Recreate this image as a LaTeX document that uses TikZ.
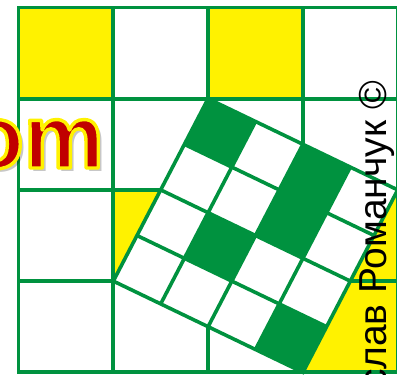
\documentclass[tikz,border=0pt]{standalone}
\usepackage{fontspec}
\setmainfont{Liberation Sans}
\definecolor{gr}{RGB}{0,146,63}
\definecolor{ye}{RGB}{255,242,0}
\definecolor{rd}{RGB}{192,0,0}
\newcommand{\outlinedom}[1]{\special{pdf:code 1 0.949 0 RG 3.4 w 1 j 2 Tr}#1\special{pdf:code 0 Tr}}
\begin{document}
\begin{tikzpicture}[x=1pt,y=-1pt,
  gline/.style={draw=gr,line width=3.8pt,line cap=rect},
  rline/.style={draw=gr,line width=3.6pt},
  omtext/.style={anchor=base east,inner sep=0pt,font=\fontsize{90}{100}\selectfont\bfseries},
  authtext/.style={rotate=90,anchor=base east,inner sep=0pt,font=\fontsize{39}{46}\selectfont}]
\useasboundingbox (0,0) rectangle (397,375);
\clip (0,0) rectangle (397,375);
\fill[white] (0,0) rectangle (397,375);
% yellow cells and triangles
\fill[ye] (18.5,7.5) rectangle (113.3,98.7);
\fill[ye] (208.1,7.5) rectangle (302.9,98.7);
\fill[ye] (113.3,189.9) -- (160.7,189.9) -- (113.3,281.1) -- cycle;
\fill[ye] (397.7,189.9) -- (397.7,372.3) -- (302.9,372.3) -- cycle;
% main grid
\foreach \x in {18.5,113.3,208.1,302.9,397.7} \draw[gline] (\x,7.5) -- (\x,372.3);
\foreach \y in {7.5,98.7,189.9,281.1,372.3} \draw[gline] (18.5,\y) -- (397.7,\y);
% rotated square
\begin{scope}[shift={(208.1,98.7)},x={(47.4pt,-22.8pt)},y={(-23.7pt,-45.6pt)}]
  \fill[white] (0,0) -- (4,0) -- (4,4) -- (0,4) -- cycle;
  \foreach \i/\j in {0/0,2/0,2/1,1/2,3/3}
    \fill[gr] (\i,\j) -- ++(1,0) -- ++(0,1) -- ++(-1,0) -- cycle;
  \foreach \k in {1,2,3} {
    \draw[rline] (\k,0) -- (\k,4);
    \draw[rline] (0,\k) -- (4,\k);
  }
  \draw[rline,line join=miter] (0,0) -- (4,0) -- (4,4) -- (0,4) -- cycle;
\end{scope}
% text "om" with shadow and outline
\node[omtext,text=black,opacity=0.22] (omshadow) at (107.5,171.5) {om};
\node[omtext,text=rd] (om) at (104,168) {\outlinedom{om}};
% author text
\node[authtext] (auth) at (386.5,80.8) {слав Романчук ©};
\end{tikzpicture}
\end{document}
